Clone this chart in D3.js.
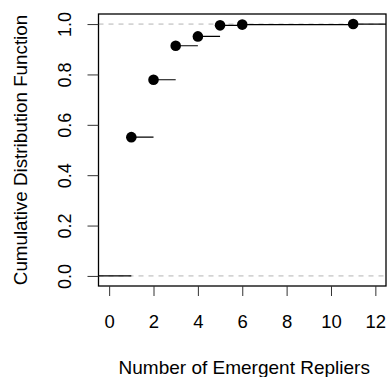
<!DOCTYPE html>
<html>
<head>
<meta charset="utf-8">
<script src="https://cdn.jsdelivr.net/npm/d3@7"></script>
<style>
  body { margin: 0; background: #fff; }
  text { font-family: "Liberation Sans", Arial, sans-serif; fill: #000; }
</style>
</head>
<body>
<div id="chart"></div>
<script>
// ecdf of number of emergent repliers
const knots = [1, 2, 3, 4, 5, 6, 11];
const cdf = [0.551, 0.779, 0.914, 0.951, 0.995, 0.998, 1.0];
const xTicks = [0, 2, 4, 6, 8, 10, 12];
const yTicks = [0, 0.2, 0.4, 0.6, 0.8, 1.0];

const W = 388, H = 377;
const plot = { left: 98.5, right: 386, top: 14, bottom: 286 };
const fs = "19px";

const svg = d3.select("#chart").append("svg")
  .attr("width", W)
  .attr("height", H);

const x = d3.scaleLinear().domain([-0.48, 12.48]).range([plot.left, plot.right]);
const y = d3.scaleLinear().domain([-0.04, 1.04]).range([plot.bottom, plot.top]);

svg.append("clipPath").attr("id", "clip")
  .append("rect")
  .attr("x", plot.left).attr("y", plot.top)
  .attr("width", plot.right - plot.left).attr("height", plot.bottom - plot.top);

const g = svg.append("g").attr("clip-path", "url(#clip)");

// dashed reference lines at 0 and 1
g.selectAll("line.ref")
  .data([0, 1])
  .enter().append("line")
  .attr("class", "ref")
  .attr("x1", plot.left).attr("x2", plot.right)
  .attr("y1", d => y(d)).attr("y2", d => y(d))
  .attr("stroke", "#b3b3b3")
  .attr("stroke-width", 1)
  .attr("stroke-dasharray", "5,5");

// horizontal steps
const steps = [{ x0: -0.48, x1: knots[0], v: 0 }];
knots.forEach((k, i) => {
  steps.push({ x0: k, x1: i < knots.length - 1 ? knots[i + 1] : 13, v: cdf[i] });
});
g.selectAll("line.step")
  .data(steps)
  .enter().append("line")
  .attr("class", "step")
  .attr("x1", d => x(d.x0)).attr("x2", d => x(d.x1))
  .attr("y1", d => y(d.v)).attr("y2", d => y(d.v))
  .attr("stroke", "#000")
  .attr("stroke-width", 1.2);

// points
svg.append("g").selectAll("circle")
  .data(knots)
  .enter().append("circle")
  .attr("cx", d => x(d))
  .attr("cy", (d, i) => y(cdf[i]))
  .attr("r", 5.3)
  .attr("fill", "#000");

// box
svg.append("rect")
  .attr("x", plot.left).attr("y", plot.top)
  .attr("width", plot.right - plot.left).attr("height", plot.bottom - plot.top)
  .attr("fill", "none").attr("stroke", "#000").attr("stroke-width", 1.3);

// x axis
const xAxis = svg.append("g")
  .attr("transform", "translate(0," + plot.bottom + ")")
  .call(d3.axisBottom(x).tickValues(xTicks).tickSize(10).tickFormat(d3.format("d")));
xAxis.select(".domain").remove();
xAxis.selectAll(".tick line").attr("stroke", "#333");
xAxis.selectAll("text")
  .attr("y", 42).attr("dy", null)
  .style("font-size", "18.5px")
  .style("font-family", "Liberation Sans, Arial, sans-serif");

// y axis
const yAxis = svg.append("g")
  .attr("transform", "translate(" + plot.left + ",0)")
  .call(d3.axisLeft(y).tickValues(yTicks).tickSize(11).tickFormat(d3.format(".1f")));
yAxis.select(".domain").remove();
yAxis.selectAll(".tick line").attr("stroke", "#333");
yAxis.selectAll("text")
  .attr("x", null).attr("dy", null)
  .attr("transform", "translate(-27.5,0) rotate(-90)")
  .attr("text-anchor", "middle")
  .style("font-size", "18px")
  .style("font-family", "Liberation Sans, Arial, sans-serif");

// axis titles
svg.append("text")
  .attr("x", (plot.left + plot.right) / 2 + 2)
  .attr("y", 374)
  .attr("text-anchor", "middle")
  .style("font-size", fs)
  .text("Number of Emergent Repliers");

svg.append("text")
  .attr("transform", "translate(27," + (plot.top + plot.bottom) / 2 + ") rotate(-90)")
  .attr("text-anchor", "middle")
  .style("font-size", "18.8px")
  .text("Cumulative Distribution Function");
</script>
</body>
</html>
